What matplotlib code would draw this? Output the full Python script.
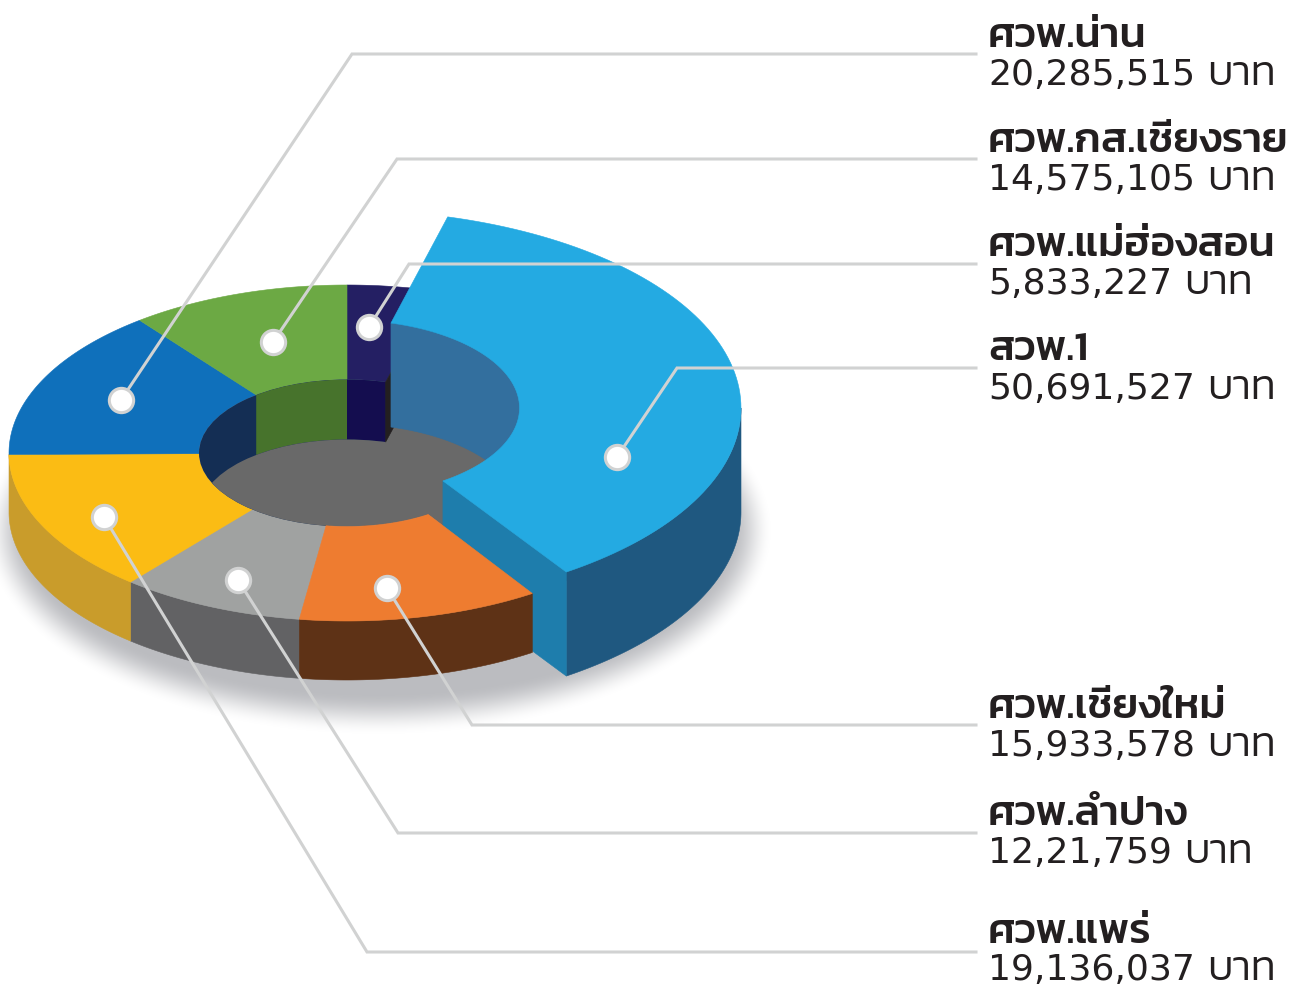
import numpy as np
import matplotlib
matplotlib.use("Agg")
from matplotlib import pyplot as plt
from matplotlib.patches import Ellipse, Polygon

# clockwise from the top of the ring
names = ["ศวพ.แม่ฮ่องสอน", "สวพ.1", "ศวพ.เชียงใหม่", "ศวพ.ลำปาง", "ศวพ.แพร่", "ศวพ.น่าน", "ศวพ.กส.เชียงราย"]
values = [5833227, 50691527, 15933578, 12210759, 19136037, 20285515, 14575105]
amounts = ["5,833,227", "50,691,527", "15,933,578", "12,21,759", "19,136,037", "20,285,515", "14,575,105"]
unit = "บาท"

top_colors = ["#241f63", "#24aae2", "#ee7c30", "#a0a2a1", "#fbbc14", "#0f70bb", "#6ca944"]
side_colors = [None, "#1f5880", "#5e3216", "#626264", "#c99c2b", None, None]

LINE = "#d1d2d2"
INK = "#231f20"

# ring geometry in pixels
CX, CY = 347, 453
RX, RY = 338, 168
HX, HY = 148, 73.5
DEPTH = 60
# pulled-out slice
BX, BY = 344, 408
BRX, BRY = 397, 198
BHCX = 345.5
BHX, BHY = 174, 88
BDEPTH = 104
BTRIM = 0.8

# leader: marker, elbow  /  title baseline, amount baseline
leaders = [
    ((369, 327), (409, 264), 256, 294),
    ((617, 457), (677, 368), 360, 399),
    ((387, 588), (472, 725), 718, 756),
    ((238, 580), (398, 833), 825, 863),
    ((104, 517), (367, 952), 943, 980),
    ((121, 400), (352, 54), 47, 85),
    ((273, 342), (397, 159), 152, 190),
]


def arc(cx, cy, rx, ry, a0, a1, n=90):
    t = np.radians(np.linspace(a0, a1, n))
    return np.c_[cx + rx * np.cos(t), cy - ry * np.sin(t)]


def shape(ax, pts, color, z=2):
    ax.add_patch(Polygon(pts, closed=True, fc=color, ec=color, lw=0.4, zorder=z))


def band(arc_a, arc_b):
    return np.vstack([arc_a, arc_b[::-1]])


fig = plt.figure(figsize=(13.03, 9.85), dpi=100)
ax = fig.add_axes([0, 0, 1, 1])
ax.axis("off")

edges = 90 - np.cumsum([0] + values) / sum(values) * 360
starts, stops = edges[:-1], edges[1:]

# soft shadow under the ring, faded by rough distance from an ellipse edge
xx, yy = np.meshgrid(np.arange(-20.0, 800), np.arange(350.0, 760))
ux, uy = (xx - 378) / 394, (yy - 530) / 205
d = np.sqrt(ux ** 2 + uy ** 2) + 1e-6
grad = np.sqrt((ux / 394) ** 2 + (uy / 205) ** 2) / d
fade = np.clip((1 - d) / grad / 42, 0, 1)
fade = fade * fade * (3 - 2 * fade)
rgba = np.zeros(d.shape + (4,))
rgba[..., :3] = matplotlib.colors.to_rgb("#bbbcc0")
rgba[..., 3] = fade
ax.imshow(rgba, extent=(-20, 800, 760, 350), zorder=1, aspect="auto")
ax.set_xlim(0, 1303)
ax.set_ylim(985, 0)

# outer walls and top faces of the ring, blue and orange come later
for i in [3, 4]:
    outer = arc(CX, CY, RX, RY, starts[i], stops[i])
    shape(ax, band(outer, outer + [0, DEPTH - 1]), side_colors[i])
for i in [0, 3, 4, 5, 6]:
    shape(ax, band(arc(CX, CY, RX, RY, starts[i], stops[i]), arc(CX, CY, HX, HY, starts[i], stops[i])), top_colors[i])

# the hole: back wall, then floor
hole = Ellipse((CX, CY), 2 * HX, 2 * HY, fc="#142e54", ec="none", zorder=3)
ax.add_patch(hole)
for i, col in [(6, "#47732c"), (0, "#140d4f")]:
    rim = arc(CX, CY, HX, HY, starts[i], stops[i])
    p = Polygon(band(rim, rim + [0, DEPTH]), closed=True, fc=col, ec="none", zorder=3)
    ax.add_patch(p)
    p.set_clip_path(hole)
floor = Ellipse((CX, CY + DEPTH), 2 * HX, 2 * HY, fc="#696969", ec="none", zorder=3)
ax.add_patch(floor)
floor.set_clip_path(hole)

# floor left bare by the pulled-out slice and the cut end of the navy slice
a = starts[1]
inner_pt = arc(CX, CY, HX, HY, a, a, 1)[0]
outer_pt = arc(CX, CY, RX, RY, a, a, 1)[0]
inner_end = arc(CX, CY, HX, HY, stops[1], stops[1], 1)[0]
shape(ax, np.vstack([[inner_pt + [0, DEPTH]], arc(CX, CY, RX, RY, a, stops[1]), [inner_end]]), "#696969", 3)
shape(ax, [inner_pt, outer_pt, outer_pt + [0, DEPTH], inner_pt + [0, DEPTH]], INK, 3)

# pulled-out slice
s, e = starts[1], stops[1] + BTRIM
rim = arc(BHCX, BY, BHX, BHY, s, 0)
shape(ax, band(rim, rim + [0, BDEPTH]), "#336f9e", 4)
outer = arc(BX, BY, BRX, BRY, e, 0)
shape(ax, band(outer, outer + [0, BDEPTH]), side_colors[1], 4)
p_in = arc(BHCX, BY, BHX, BHY, e, e, 1)[0]
p_out = arc(BX, BY, BRX, BRY, e, e, 1)[0]
shape(ax, [p_in, p_out, p_out + [0, BDEPTH], p_in + [0, BDEPTH]], "#1e7dac", 4)
shape(ax, band(arc(BX, BY, BRX, BRY, s, e), arc(BHCX, BY, BHX, BHY, s, e)), top_colors[1], 5)

# orange sits in front of the cut face
outer = arc(CX, CY, RX, RY, starts[2], stops[2])
shape(ax, band(outer, outer + [0, DEPTH - 1]), side_colors[2], 6)
shape(ax, band(outer, arc(CX, CY, HX, HY, starts[2], stops[2])), top_colors[2], 6)

# leaders, markers, labels
rend = fig.canvas.get_renderer()
for i, (dot, elbow, y_title, y_amount) in enumerate(leaders):
    ax.plot([dot[0], elbow[0], 976], [dot[1], elbow[1], elbow[1]], color=LINE, lw=2.2, zorder=7,
            solid_joinstyle="miter")
    ax.plot(dot[0], dot[1], "o", ms=17.5, mfc="white", mec=LINE, mew=2.2, zorder=8)
    ax.text(988, y_title, names[i], family=["Kanit", "DejaVu Sans"], fontsize=30.6, weight=500, color=INK, va="baseline")
    t = ax.text(988, y_amount, amounts[i], family="DejaVu Sans", fontsize=26, color=INK, va="baseline")
    right = t.get_window_extent(rend).x1
    ax.text(right + 12, y_amount, unit, family=["Kanit", "DejaVu Sans"], fontsize=30, weight=300, color=INK, va="baseline")

fig.savefig("out.png", dpi=100)
